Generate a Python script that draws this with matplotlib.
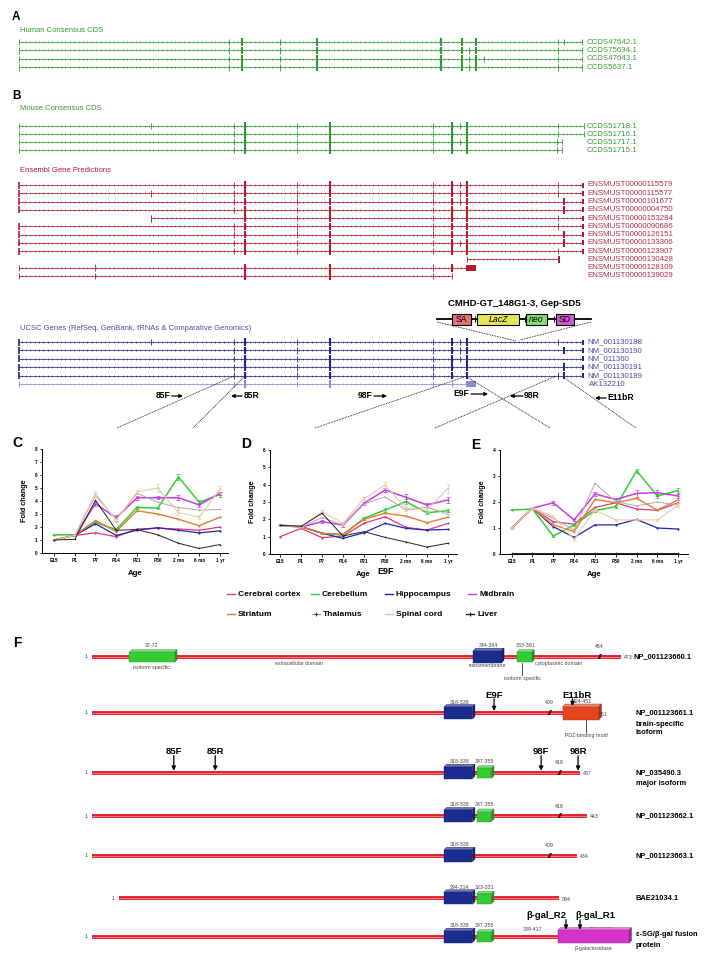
import matplotlib
matplotlib.use('Agg')
import matplotlib.pyplot as plt
from matplotlib.patches import Rectangle, Polygon
import matplotlib.colors as mcolors
import numpy as np

plt.rcParams['font.family'] = ['Liberation Sans', 'DejaVu Sans']

# ---------------- data ----------------
# Panel A: human consensus CDS (exon positions along the locus)
human_labels = ['CCDS47642.1', 'CCDS75634.1', 'CCDS47643.1', 'CCDS5637.1']
human_start = [19, 19, 19, 19]
human_end = [582, 582, 582, 582]
human_thin = [[229, 280, 558, 564], [229, 280, 469, 558],
              [229, 280, 469, 484, 558], [229, 280, 469, 558]]
human_thick = [[242, 317, 441, 462, 476], [242, 317, 441, 462, 476],
               [242, 317, 441, 462, 476], [242, 317, 441, 462, 476]]

# Panel B: mouse consensus CDS
mouse_labels = ['CCDS51718.1', 'CCDS51716.1', 'CCDS51717.1', 'CCDS51715.1']
mouse_start = [19, 19, 19, 19]
mouse_end = [584, 584, 562, 562]
mouse_thin = [[151, 234, 297, 433, 460, 558], [234, 297, 433, 558],
              [234, 297, 433, 460, 557], [234, 297, 433, 557]]
mouse_thick = [[245, 330, 452, 467], [245, 330, 452, 467],
               [245, 330, 452, 467], [245, 330, 452, 467]]

# Ensembl gene predictions
ens_labels = ['ENSMUST00000115579', 'ENSMUST00000115577', 'ENSMUST00000101677',
              'ENSMUST00000004750', 'ENSMUST00000153284', 'ENSMUST00000090686',
              'ENSMUST00000126151', 'ENSMUST00000133306', 'ENSMUST00000123907',
              'ENSMUST00000130428', 'ENSMUST00000128109', 'ENSMUST00000139029']
ens_start = [19, 19, 19, 19, 151, 19, 19, 19, 19, 467, 19, 19]
ens_end = [582, 582, 582, 582, 582, 582, 582, 582, 582, 559, 466, 452]
ens_thin = [[234, 297, 433, 460, 558], [151, 234, 297, 433, 460, 558],
            [234, 297, 433, 460], [234, 297, 433], [297, 433, 558],
            [234, 297, 433, 558], [234, 297, 433], [234, 297, 433, 460],
            [234, 297, 433, 558], [], [95, 433], [95, 433]]
ens_thick = [[245, 330, 452, 467], [245, 330, 452, 467], [245, 330, 452, 467, 564],
             [245, 330, 452, 467, 564], [245, 330, 452, 467], [245, 330, 452, 467],
             [245, 330, 452, 467, 564], [245, 330, 452, 467, 564], [245, 330, 452, 467],
             [], [245, 330, 452], [245, 330]]

# UCSC genes
ucsc_labels = ['NM_001130188', 'NM_001130190', 'NM_011360', 'NM_001130191',
               'NM_001130189', 'AK132210']
ucsc_start = [19, 19, 19, 19, 19, 19]
ucsc_end = [582, 582, 582, 582, 582, 466]
ucsc_thin = [[151, 234, 297, 433, 460, 558], [234, 297, 433, 460],
             [234, 297, 433, 460], [234, 297, 433], [234, 297, 433, 558],
             [234, 297, 433, 452]]
ucsc_thick = [[245, 330, 452, 467], [245, 330, 452, 467, 564],
              [245, 330, 452, 467], [245, 330, 452, 467, 564],
              [245, 330, 452, 467, 564], [245, 330]]

# Panels C-E: qPCR fold change
ages = ['E15', 'P1', 'P7', 'P14', 'P21', 'P30', '2 mo', '6 mo', '1 yr']
tissues = ['Cerebral cortex', 'Cerebellum', 'Hippocampus', 'Midbrain',
           'Striatum', 'Thalamus', 'Spinal cord', 'Liver']

cortex_c = [1.0, 1.35, 1.55, 1.25, 1.85, 1.9, 1.85, 1.75, 2.0]
cerebellum_c = [1.4, 1.4, 2.35, 1.8, 3.5, 3.45, 5.85, 3.9, 4.5]
hippocampus_c = [1.0, 1.35, 2.25, 1.35, 1.75, 1.95, 1.75, 1.55, 1.7]
midbrain_c = [1.0, 1.35, 3.8, 2.7, 4.25, 4.25, 4.25, 3.7, 4.6]
striatum_c = [1.0, 1.35, 2.5, 1.65, 3.25, 3.0, 2.6, 2.1, 2.75]
thalamus_c = [1.0, 1.35, 4.4, 2.6, 4.6, 3.9, 3.5, 3.3, 3.35]
spinal_c = [1.0, 1.35, 4.6, 2.5, 4.7, 5.0, 3.1, 2.75, 4.9]
liver_c = [1.0, 1.05, 4.05, 1.75, 1.8, 1.4, 0.75, 0.35, 0.65]
# error bars (SEM) visible in C
cerebellum_c_err = [0.0, 0.0, 0.1, 0.1, 0.15, 0.1, 0.25, 0.15, 0.2]
midbrain_c_err = [0.0, 0.0, 0.15, 0.2, 0.15, 0.1, 0.2, 0.15, 0.1]
spinal_c_err = [0.0, 0.0, 0.2, 0.15, 0.15, 0.3, 0.2, 0.15, 0.25]

cortex_d = [1.0, 1.48, 0.94, 1.04, 1.77, 2.15, 1.54, 1.38, 1.77]
cerebellum_d = [1.67, 1.58, 1.19, 1.1, 2.06, 2.54, 3.02, 2.38, 2.5]
hippocampus_d = [1.65, 1.58, 1.2, 0.9, 1.23, 1.77, 1.48, 1.38, 1.42]
midbrain_d = [1.65, 1.55, 1.87, 1.67, 2.92, 3.69, 3.27, 2.83, 3.12]
striatum_d = [1.65, 1.58, 1.19, 1.15, 2.0, 2.35, 2.19, 1.81, 2.12]
thalamus_d = [1.65, 1.55, 2.1, 1.67, 2.88, 3.3, 2.54, 2.7, 2.3]
spinal_d = [1.65, 1.55, 2.44, 1.77, 3.2, 3.98, 2.63, 2.54, 3.79]
liver_d = [1.65, 1.6, 2.35, 1.04, 1.29, 0.96, 0.69, 0.4, 0.62]
cerebellum_d_err = [0.0, 0.0, 0.05, 0.05, 0.1, 0.1, 0.15, 0.1, 0.1]
midbrain_d_err = [0.0, 0.0, 0.1, 0.1, 0.1, 0.1, 0.2, 0.1, 0.15]
spinal_d_err = [0.0, 0.0, 0.1, 0.1, 0.1, 0.2, 0.15, 0.1, 0.25]

cortex_e = [1.0, 1.76, 1.24, 1.15, 1.79, 1.97, 1.73, 1.68, 1.97]
cerebellum_e = [1.69, 1.73, 0.69, 1.12, 1.67, 1.82, 3.2, 2.23, 2.44]
hippocampus_e = [1.0, 1.76, 1.05, 0.64, 1.12, 1.12, 1.33, 1.0, 0.96]
midbrain_e = [1.0, 1.76, 1.97, 1.31, 2.31, 2.1, 2.33, 2.36, 2.23]
striatum_e = [1.0, 1.76, 1.12, 0.86, 2.1, 1.97, 2.14, 1.69, 2.08]
thalamus_e = [1.0, 1.76, 1.37, 0.92, 2.72, 2.01, 1.85, 2.0, 1.88]
spinal_e = [1.0, 1.76, 1.44, 0.56, 1.69, 1.31, 1.31, 1.31, 1.88]
liver_e = [0.03, 0.03, 0.03, 0.03, 0.03, 0.03, 0.03, 0.03, 0.03]
cerebellum_e_err = [0.0, 0.05, 0.05, 0.05, 0.05, 0.05, 0.08, 0.08, 0.08]
midbrain_e_err = [0.0, 0.05, 0.08, 0.05, 0.08, 0.05, 0.12, 0.12, 0.08]
spinal_e_err = [0.0, 0.05, 0.05, 0.05, 0.05, 0.05, 0.05, 0.05, 0.08]

# Panel F: protein isoforms (residue numbers)
prot_names = ['NP_001123660.1', 'NP_001123661.1', 'NP_035490.3', 'NP_001123662.1',
              'NP_001123663.1', 'BAE21034.1', 'ε-SG/β-gal fusion']
prot_length = [473, 451, 437, 443, 434, 394, 417]
prot_offset = [0, 0, 0, 0, 0, 24, 0]
prot_break = [454, 409, 418, 418, 409, None, None]
tm_domain = [(344, 364), (318, 338), (318, 338), (318, 338), (318, 338), (294, 314), (318, 338)]
iso_domain = [(383, 391), None, (347, 355), (347, 355), None, (323, 331), (347, 355)]
isoform1_domain = (37, 72)
pdz_domain = (424, 451)
lacz_domain = (418, 1464)
primers_row2 = {'E9F': 360, 'E11bR': 430}
primers_row3 = {'85F': 74, '85R': 111, '98F': 402, '98R': 435}

# ---------------- figure ----------------
W, H = 704, 961
fig = plt.figure(figsize=(W / 100, H / 100), dpi=100)
ax = fig.add_axes([0, 0, 1, 1])
ax.set_xlim(0, W)
ax.set_ylim(H, 0)
ax.axis('off')

GREEN = '#2f9a2f'
RED = '#b01c2e'
BLUE = '#23238e'
BLUE_LT = '#8a8ad8'
LBL = 5.7


def intron(y, x0, x1, color):
    ax.plot([x0, x1], [y, y], color=color, lw=0.55, zorder=2)
    xs = np.arange(x0 + 2.5, x1 - 1.5, 4.4)
    ax.plot(xs, np.full(len(xs), y), ls='none', marker='|', ms=2.0, mew=0.4,
            color=color, zorder=2)


def track(y, x0, x1, thin, thick, color, label, lcolor, kind):
    intron(y, x0, x1, color)
    if thin:
        ax.vlines(thin, y - 3.3, y + 3.3, color=color, lw=0.6, zorder=3)
    if thick:
        ax.vlines(thick, y - 3.8, y + 3.8, color=color, lw=1.5, zorder=3)
    if kind == 'cds':
        ax.vlines([x0, x1], y - 3.3, y + 3.3, color=color, lw=0.6)
    else:
        ax.vlines([x0], y - 3.5, y + 3.5, color=color, lw=1.2 if x0 < 30 else 0.7)
        ax.add_patch(Rectangle((x1 - 0.5, y - 2.5), 2.2, 5, fc=color, ec='none'))
    ax.text(587, y, label, color=lcolor, fontsize=LBL, va='center', ha='left')


# Panel A
ax.text(12, 17, 'A', fontsize=8.5, fontweight='bold', va='center')
ax.text(20, 31, 'Human Consensus CDS', color=GREEN, fontsize=5.5, va='center')
for i in range(4):
    track(42 + 8.4 * i, human_start[i], human_end[i], human_thin[i], human_thick[i],
          GREEN, human_labels[i], '#3c9c3c', 'cds')

# Panel B
ax.text(12, 96, 'B', fontsize=8.5, fontweight='bold', va='center')
ax.text(20, 109, 'Mouse Consensus CDS', color=GREEN, fontsize=5.5, va='center')
for i in range(4):
    track(126 + 8.0 * i, mouse_start[i], mouse_end[i], mouse_thin[i], mouse_thick[i],
          GREEN, mouse_labels[i], '#3c9c3c', 'cds')

ax.text(20, 171, 'Ensembl Gene Predictions', color=RED, fontsize=5.5, va='center')
for i in range(12):
    y = 185 + 8.27 * i
    if i == 9:
        intron(y, ens_start[i], ens_end[i], RED)
        ax.vlines([ens_start[i]], y - 3, y + 3, color=RED, lw=0.6)
        ax.vlines([ens_end[i]], y - 3.5, y + 3.5, color=RED, lw=1.4)
        ax.text(587, y, ens_labels[i], color='#b03040', fontsize=LBL, va='center')
    elif i >= 10:
        intron(y, ens_start[i], ens_end[i], RED)
        ax.vlines(ens_thin[i], y - 3.3, y + 3.3, color=RED, lw=0.6)
        ax.vlines(ens_thick[i], y - 3.8, y + 3.8, color=RED, lw=1.5)
        ax.vlines([ens_start[i]], y - 3, y + 3, color=RED, lw=0.6)
        if i == 10:
            ax.add_patch(Rectangle((466, y - 3), 10, 6, fc=RED, ec='none'))
        else:
            ax.vlines([ens_end[i]], y - 3, y + 3, color=RED, lw=0.6)
        ax.text(587, y, ens_labels[i], color='#b03040', fontsize=LBL, va='center')
    else:
        track(y, ens_start[i], ens_end[i], ens_thin[i], ens_thick[i], RED,
              ens_labels[i], '#b03040', 'ens')

# Gene trap construct
ax.text(514, 303, 'CMHD-GT_148G1-3, Gep-SD5', fontsize=6.8, fontweight='bold',
        ha='center', va='center')
ax.plot([437, 591], [319, 319], color='k', lw=1.3, zorder=1)
construct = [('SA', 452, 471, '#e8707a', False), ('LacZ', 477, 519, '#e6e65a', True),
             ('neo', 526, 547, '#86dc74', True), ('SD', 556, 574, '#d656d6', False)]
for name, a, b, c, it in construct:
    ax.add_patch(Rectangle((a, 313.5), b - a, 11, fc=c, ec='k', lw=0.8, zorder=3))
    ax.text((a + b) / 2, 319.3, name, fontsize=6.3, ha='center', va='center',
            style='italic' if it else 'normal', zorder=4)
ax.vlines([475, 524.5, 553.5], 316, 322, color='k', lw=0.8)
ax.plot([437, 516], [322, 341], ls=(0, (1, 1)), color='k', lw=0.6)
ax.plot([591, 520], [322, 340], ls=(0, (1, 1)), color='k', lw=0.6)

# UCSC genes
ax.text(20, 328, 'UCSC Genes (RefSeq, GenBank, tRNAs & Comparative Genomics)',
        color='#4b4ba0', fontsize=5.5, va='center')
ucsc_y = [342, 350.4, 358.8, 367.2, 375.6, 384]
for i in range(6):
    y = ucsc_y[i]
    if i < 5:
        track(y, ucsc_start[i], ucsc_end[i], ucsc_thin[i], ucsc_thick[i], BLUE,
              ucsc_labels[i], '#4b4ba0', 'ucsc')
    else:
        intron(y, ucsc_start[i], ucsc_end[i], BLUE_LT)
        ax.vlines(ucsc_thin[i], y - 3.3, y + 3.3, color=BLUE_LT, lw=0.6)
        ax.vlines(ucsc_thick[i], y - 3.8, y + 3.8, color=BLUE_LT, lw=1.5)
        ax.vlines([ucsc_start[i]], y - 3, y + 3, color=BLUE_LT, lw=0.6)
        ax.add_patch(Rectangle((466, y - 3), 10, 6, fc=BLUE_LT, ec='none'))
        ax.text(589, y, ucsc_labels[i], color='#4b4ba0', fontsize=LBL, va='center')


def primer_track(label, xt, ya, x_from, x_to, left_text):
    ax.annotate('', xy=(x_to, ya), xytext=(x_from, ya),
                arrowprops=dict(arrowstyle='-|>', color='k', lw=0.9,
                                mutation_scale=5, shrinkA=0, shrinkB=0))
    ax.text(xt, ya, label, fontsize=6.2, fontweight='bold', va='center',
            ha='right' if left_text else 'left')


primer_track('85F', 170, 396, 172, 183, True)
primer_track('85R', 244, 396, 242, 231, False)
primer_track('98F', 372, 396, 374, 387, True)
primer_track('E9F', 469, 394, 471, 488, True)
primer_track('98R', 524, 396, 523, 510, False)
primer_track('E11bR', 607, 398, 606, 595, False)

# dotted connectors from exons to panels C-E
connectors = [((117, 428), (234, 376)), ((193, 428), (245, 376)),
              ((315, 428), (467, 376)), ((435, 428), (556, 376)),
              ((550, 428), (467, 377)), ((636, 428), (563, 377))]
for (xa, ya), (xb, yb) in connectors:
    ax.plot([xa, xb], [ya, yb], ls=(0, (1, 1)), color='k', lw=0.6)

# ---------------- panels C-E ----------------
series_colors = ['#e8357a', '#35cc35', '#2424b4', '#c23ee0', '#e07f2e',
                 '#b9a3ae', '#ecc9a6', '#222222']
series_lw = [0.9, 1.1, 0.9, 1.1, 1.0, 0.7, 0.8, 0.7]
series_marker = ['.', '.', '.', '.', '.', '+', '.', '+']


def chart(left, right, top, bottom, xlim, ymax, data, errs, letter, lx, ly):
    a = fig.add_axes([left / W, 1 - bottom / H, (right - left) / W, (bottom - top) / H])
    a.patch.set_alpha(0)
    xs = np.arange(len(ages))
    for k, vals in enumerate(data):
        a.plot(xs, vals, color=series_colors[k], lw=series_lw[k],
               marker=series_marker[k], ms=2.0, mew=0.5, zorder=3)
        if k in errs:
            a.errorbar(xs, vals, yerr=errs[k], fmt='none', ecolor=series_colors[k],
                       elinewidth=0.5, capsize=1.2, capthick=0.5, zorder=3)
    a.set_xlim(*xlim)
    a.set_ylim(0, ymax)
    a.set_xticks(xs)
    a.set_xticklabels(ages, fontsize=3.4, fontweight='bold')
    a.set_yticks(range(0, ymax + 1))
    a.set_yticklabels([str(v) for v in range(0, ymax + 1)], fontsize=3.4, fontweight='bold')
    for s in ['top', 'right']:
        a.spines[s].set_visible(False)
    for s in ['left', 'bottom']:
        a.spines[s].set_linewidth(0.7)
    a.tick_params(length=1.8, width=0.6, pad=1.5)
    a.set_ylabel('Fold change', fontsize=5.2, fontweight='bold', labelpad=5)
    a.set_xlabel('Age', fontsize=5.6, fontweight='bold', labelpad=5)
    ax.text(lx, ly, letter, fontsize=10, fontweight='bold', va='center', ha='center')
    return a


chart(42, 228, 449, 553, (-0.58, 8.39), 8,
      [cortex_c, cerebellum_c, hippocampus_c, midbrain_c, striatum_c, thalamus_c,
       spinal_c, liver_c],
      {1: cerebellum_c_err, 3: midbrain_c_err, 6: spinal_c_err}, 'C', 17, 443)
chart(270, 457, 450, 554, (-0.48, 8.43), 6,
      [cortex_d, cerebellum_d, hippocampus_d, midbrain_d, striatum_d, thalamus_d,
       spinal_d, liver_d],
      {1: cerebellum_d_err, 3: midbrain_d_err, 6: spinal_d_err}, 'D', 246, 444)
chart(500, 688, 450, 554, (-0.56, 8.47), 4,
      [cortex_e, cerebellum_e, hippocampus_e, midbrain_e, striatum_e, thalamus_e,
       spinal_e, liver_e],
      {1: cerebellum_e_err, 3: midbrain_e_err, 6: spinal_e_err}, 'E', 476, 445)
ax.text(386, 572, 'E9F', fontsize=6.5, fontweight='bold', ha='center', va='center')

# legend
leg_pos = [(227, 594), (311, 594), (385, 594), (468, 594),
           (227, 614), (312, 614), (385, 614), (466, 614)]
for k, name in enumerate(tissues):
    x, y = leg_pos[k]
    ax.plot([x, x + 8], [y, y], color=series_colors[k], lw=1.0)
    if series_marker[k] == '+':
        ax.plot([x + 4], [y], marker='+', color='#333333' if k == 5 else 'k',
                ms=3, mew=0.7)
    ax.text(x + 11, y, name, fontsize=6, fontweight='bold', va='center')

# ---------------- panel F ----------------
ax.text(17, 643, 'F', fontsize=10, fontweight='bold', va='center', ha='center')
row_y = [656.7, 713, 772.7, 816, 855.7, 898.3, 936.7]
X0, SC = 92, 1.12


def rx(r, off=0):
    return X0 + (r - 1 + off) * SC


def box3d(x0, x1, yc, h, color, d=2.5):
    y0 = yc - h / 2
    base = np.array(mcolors.to_rgb(color))
    top = np.clip(base + (1 - base) * 0.35, 0, 1)
    side = base * 0.7
    ax.add_patch(Polygon([(x0, y0), (x0 + d, y0 - d), (x1 + d, y0 - d), (x1, y0)],
                         closed=True, fc=top, ec=side, lw=0.3, zorder=5))
    ax.add_patch(Polygon([(x1, y0), (x1 + d, y0 - d), (x1 + d, y0 + h - d), (x1, y0 + h)],
                         closed=True, fc=side, ec=side, lw=0.3, zorder=5))
    ax.add_patch(Rectangle((x0, y0), x1 - x0, h, fc=color, ec=side, lw=0.3, zorder=5))


def small(x, y, s, ha='center'):
    ax.text(x, y, s, fontsize=3.8, color='#444444', ha=ha, va='center')


def farrow(x, ylab, ytip, label, lx=None):
    ax.annotate('', xy=(x, ytip), xytext=(x, ylab + 4),
                arrowprops=dict(arrowstyle='-|>', color='k', lw=0.9,
                                mutation_scale=6, shrinkA=0, shrinkB=0), zorder=7)
    ax.text(x if lx is None else lx, ylab, label, fontsize=6.8, fontweight='bold',
            ha='center', va='center')


for i in range(7):
    y = row_y[i]
    off = prot_offset[i]
    xs, xe = rx(1, off), rx(prot_length[i], off)
    ax.plot([xs, xe], [y, y], color='#e41f2d', lw=2.8, solid_capstyle='butt', zorder=2)
    ax.plot([xs, xe], [y, y], color='#ff8a8a', lw=0.6, solid_capstyle='butt', zorder=2)
    small(xs - 4, y, '1', ha='right')
    if i != 6:
        small(xe + 3, y + 1, str(prot_length[i]), ha='left')
    a, b = tm_domain[i]
    box3d(rx(a, off) - 3, rx(b, off) + 3, y, 12, '#1c2b8e')
    small((rx(a, off) + rx(b, off)) / 2 + 1, y - 11, f'{a}-{b}')
    if iso_domain[i] is not None:
        a, b = iso_domain[i]
        box3d(rx(a, off) - 3, rx(b, off) + 3, y + 0.5, 10, '#33cc33')
        small((rx(a, off) + rx(b, off)) / 2 + 1, y - 11, f'{a}-{b}')
    if prot_break[i] is not None:
        bx = rx(prot_break[i], off)
        ax.text(bx, y + 0.5, '//', fontsize=5.5, fontweight='bold', ha='center',
                va='center', style='italic', zorder=6)
        small(bx, y - 10, str(prot_break[i]))

# row 1 extras
y = row_y[0]
a, b = isoform1_domain
box3d(rx(a) - 3, rx(b) + 3, y + 0.5, 10, '#33cc33')
small((rx(a) + rx(b)) / 2, y - 11, f'{a}-{b}')
small((rx(a) + rx(b)) / 2, y + 11, 'isoform specific')
small(299, y + 6.5, 'extracellular domain')
small(488, y + 8.5, 'transmembrane')
small(559, y + 6.5, 'cytoplasmic domain')
ax.plot([522, 522], [y + 6, y + 18], color='k', lw=0.5)
small(522, y + 21.5, 'isoform specific')
ax.text(633, y, prot_names[0], fontsize=5.4, fontweight='bold', va='center')

# row 2 extras
y = row_y[1]
a, b = pdz_domain
box3d(rx(a) - 3, rx(b) + 3, y, 13, '#e4461c')
small((rx(a) + rx(b)) / 2 + 2, y - 11.5, f'{a}-{b}')
ax.plot([586, 586], [y + 7, y + 19], color='k', lw=0.5)
small(586, y + 23, 'PDZ-binding motif')
farrow(rx(primers_row2['E9F']), y - 18, y - 2, 'E9F')
farrow(rx(primers_row2['E11bR']), y - 18, y - 7, 'E11bR', lx=rx(primers_row2['E11bR']) + 5)
ax.text(636, y, prot_names[1], fontsize=5.4, fontweight='bold', va='center')
ax.text(636, y + 11, 'brain-specific', fontsize=5.4, fontweight='bold', va='center')
ax.text(636, y + 20, 'isoform', fontsize=5.4, fontweight='bold', va='center')

# row 3 extras
y = row_y[2]
for name, r in primers_row3.items():
    farrow(rx(r), y - 21, y - 2, name)
ax.text(636, y, prot_names[2], fontsize=5.4, fontweight='bold', va='center')
ax.text(636, y + 11, 'major isoform', fontsize=5.4, fontweight='bold', va='center')

for i in (3, 4, 5):
    ax.text(636, row_y[i], prot_names[i], fontsize=5.4, fontweight='bold', va='center')

# row 7 extras
y = row_y[6]
box3d(rx(lacz_domain[0]) - 1, rx(lacz_domain[0]) + 70, y, 13, '#d435c8')
small(533, y - 7, '339-417')
small(600, y - 7, f'{lacz_domain[0]}-{lacz_domain[1]}')
small(593, y + 11.5, 'β-galactosidase')
farrow(566, y - 21, y - 7, 'β-gal_R2', lx=546)
farrow(580, y - 21, y - 7, 'β-gal_R1', lx=595)
ax.text(636, y - 2, prot_names[6], fontsize=5.4, fontweight='bold', va='center')
ax.text(636, y + 9, 'protein', fontsize=5.4, fontweight='bold', va='center')

fig.savefig('out.png', dpi=100)
